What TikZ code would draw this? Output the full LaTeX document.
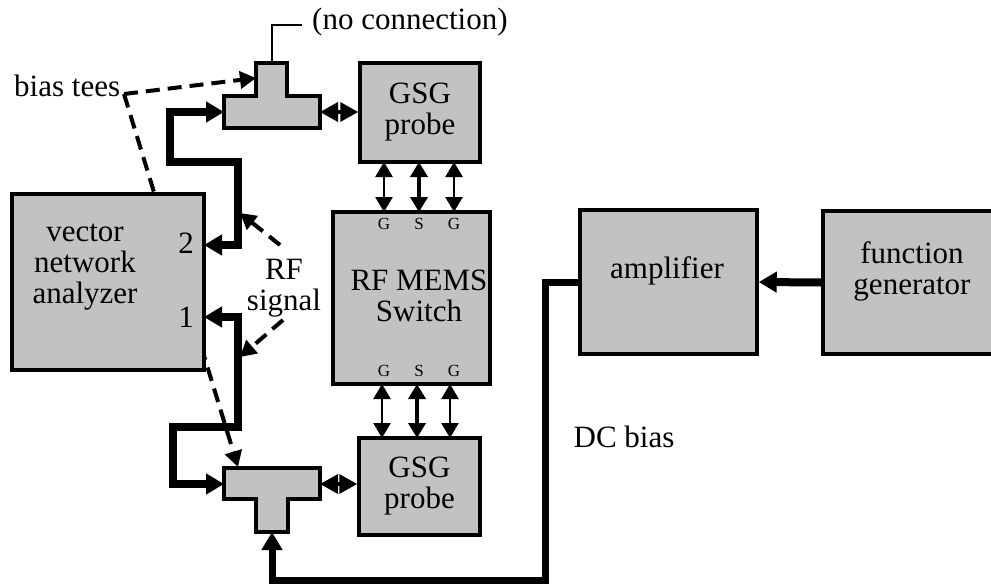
\documentclass[tikz,border=0pt]{standalone}
\usepackage{fontspec}
\setmainfont{Liberation Serif}
\usetikzlibrary{arrows.meta}
\definecolor{boxgray}{gray}{0.76}
\begin{document}
\begin{tikzpicture}[x=1pt,y=-1pt,
  box/.style={draw=black, line width=3.5pt, fill=boxgray, inner sep=0pt},
  lbl/.style={font=\fontsize{31}{31}\selectfont, align=center, inner sep=0pt},
  pin/.style={font=\fontsize{17}{17}\selectfont, inner sep=0pt},
  rfline/.style={line width=8pt, line join=miter, {Triangle[length=18pt,width=20pt]}-{Triangle[length=18pt,width=20pt]}},
  dcline/.style={line width=7pt, line join=miter, -{Triangle[length=18pt,width=20pt]}},
  pinarrow/.style={line width=2.5pt, {Triangle[length=15pt,width=17pt]}-{Triangle[length=15pt,width=17pt]}},
  pinarrowS/.style={line width=4.5pt, {Triangle[length=15pt,width=17pt]}-{Triangle[length=15pt,width=17pt]}},
  teearrow/.style={line width=3.5pt, {Triangle[length=18pt,width=19pt]}-{Triangle[length=18pt,width=19pt]}},
  note/.style={line width=4pt, dash pattern=on 14pt off 8pt, -{Triangle[length=16pt,width=17pt]}},
  thin/.style={line width=2.5pt}
]
\useasboundingbox (0,0) rectangle (991,584);

% coordinates
\coordinate (biasjoin) at (124,94);
\coordinate (teeTw) at (224,112);
\coordinate (teeTe) at (320,112);
\coordinate (teeTtop) at (272,63);
\coordinate (teeTstub) at (256,78);
\coordinate (nc1) at (272,25);
\coordinate (nc2) at (302,25);
\coordinate (teeBw) at (224,484);
\coordinate (teeBe) at (320,484);
\coordinate (teeBbot) at (272,532);
\coordinate (teeBtop) at (238,467);
\coordinate (p2) at (204,245);
\coordinate (p1) at (204,317);
\coordinate (rf1) at (280,245);
\coordinate (rf1t) at (240,213);
\coordinate (rf2) at (283,320);
\coordinate (rf2t) at (240,357);

% dashed bias tee pointer (behind VNA)
\draw[note] (biasjoin) -- (teeBtop);
\draw[note] (biasjoin) -- (teeTstub);

% boxes
\node[box, minimum width=192pt, minimum height=176pt] (vna) at (108,282) {};
\node[box, lbl, minimum width=120pt, minimum height=99pt] (probeT) at (420,112.5) {GSG\\probe};
\node[box, minimum width=157pt, minimum height=172pt] (sw) at (411.5,298) {};
\node[box, lbl, minimum width=121pt, minimum height=97pt] (probeB) at (419.5,486.5) {GSG\\probe};
\node[box, minimum width=177pt, minimum height=144pt] (amp) at (668.5,282) {};
\node[box, minimum width=175pt, minimum height=143pt] (fg) at (910.5,282.5) {};

% tees
\draw[line width=3.5pt, fill=boxgray] (224,96) -- (256,96) -- (256,63) -- (287,63) -- (287,96) -- (320,96) -- (320,128) -- (224,128) -- cycle;
\draw[line width=3.5pt, fill=boxgray] (224,468) -- (320,468) -- (320,499) -- (288,499) -- (288,532) -- (256,532) -- (256,499) -- (224,499) -- cycle;

% texts
\node[lbl] (vnatext) at (85,267) {vector\\network\\analyzer};
\node[lbl] (port2) at (186,243) {2};
\node[lbl] (port1) at (186,317) {1};
\node[lbl] (swtext) at (419,296) {RF MEMS\\Switch};
\node[lbl] (amptext) at (667,271) {amplifier};
\node[lbl] (fgtext) at (912,271) {function\\generator};
\node[lbl, anchor=west] (nctext) at (312,22) {(no connection)};
\node[lbl, anchor=west] (biastext) at (14,86) {bias tees};
\node[lbl] (rftext) at (284,288) {RF\\signal};
\node[lbl] (dctext) at (624,437) {DC bias};

\node[pin] (gT1) at (384,224) {G};
\node[pin] (sT) at (419,224) {S};
\node[pin] (gT2) at (454,224) {G};
\node[pin] (gB1) at (384,371) {G};
\node[pin] (sB) at (419,371) {S};
\node[pin] (gB2) at (454,371) {G};

% no-connection stub
\draw[thin] (teeTtop) -- (nc1) -- (nc2);

% RF lines
\draw[rfline] (p2) -- (238,245) -- (238,162) -- (170,162) -- (170,112) -- (teeTw);
\draw[rfline] (p1) -- (238,317) -- (238,427) -- (173,427) -- (173,484) -- (teeBw);

% tee to probe
\draw[teearrow] (teeTe) -- (probeT.west |- teeTe);
\draw[teearrow] (teeBe) -- (probeB.west |- teeBe);

% probe to switch pins
\draw[pinarrow]  (384,162) -- (384,212);
\draw[pinarrowS] (419,162) -- (419,212);
\draw[pinarrow]  (454,162) -- (454,212);
\draw[pinarrow]  (382,384) -- (382,438);
\draw[pinarrowS] (417,384) -- (417,438);
\draw[pinarrow]  (450,384) -- (450,438);

% function generator to amplifier
\draw[line width=8pt, -{Triangle[length=18pt,width=20pt]}] (fg.west) -- (amp.east);

% DC bias
\draw[dcline] (amp.west) -- (545,282) -- (545,580) -- (272,580) -- (teeBbot);

% RF signal pointers
\draw[note] (rf1) -- (rf1t);
\draw[note] (rf2) -- (rf2t);
\end{tikzpicture}
\end{document}
